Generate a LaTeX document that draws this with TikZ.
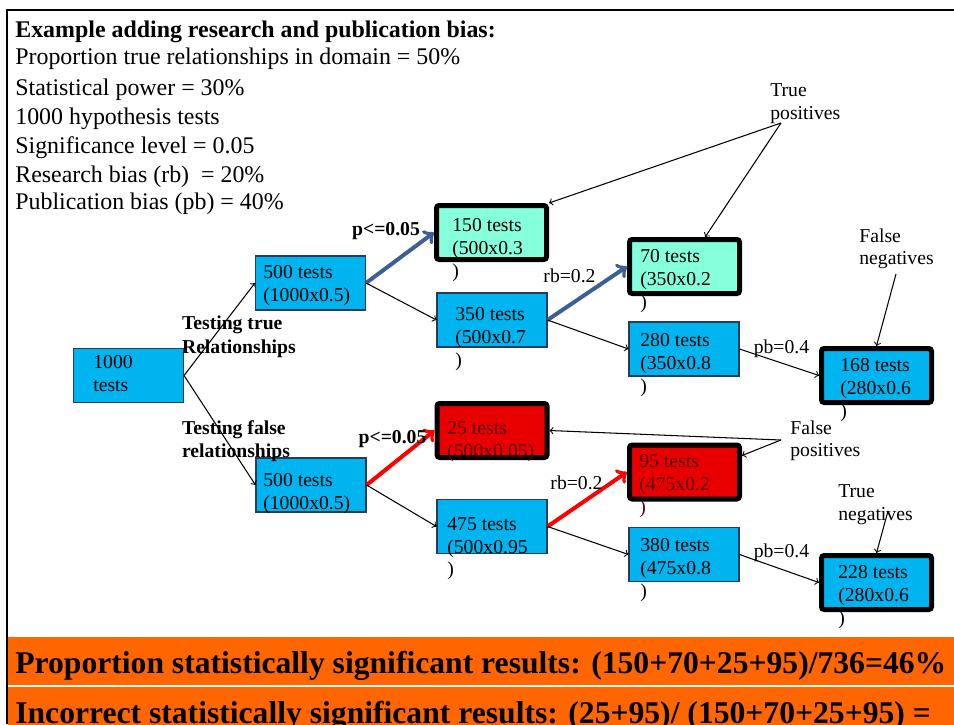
\documentclass[tikz,border=0pt]{standalone}
\usepackage{fontspec}
\setmainfont{Liberation Serif}
\newlength\pxl
\setlength\pxl{0.02cm}
\definecolor{boxblue}{RGB}{0,180,240}
\definecolor{boxaqua}{RGB}{134,255,220}
\definecolor{boxred}{RGB}{232,0,0}
\definecolor{boxline}{RGB}{40,60,90}
\definecolor{arrowblue}{RGB}{60,96,150}
\definecolor{darkred}{RGB}{90,0,0}
\definecolor{banner}{RGB}{255,102,0}
\tikzset{
  testbox/.style={draw=boxline, line width=0.6pt, minimum width=110\pxl, minimum height=54\pxl, inner sep=0pt},
  bluebox/.style={testbox, fill=boxblue},
  hitbox/.style={testbox, draw=black, line width=5\pxl, rounded corners=1.5pt},
  boxtext/.style={anchor=north west, inner sep=0pt, align=left, font=\fontsize{11.2}{13}\selectfont},
  head/.style={anchor=base west, inner sep=0pt, font=\fontsize{13.6}{16}\selectfont},
  lbl/.style={anchor=base, inner sep=0pt, font=\fontsize{11.2}{13}\selectfont},
  link/.style={->, line width=0.6pt},
  sigblue/.style={->, line width=4\pxl, draw=arrowblue},
  sigred/.style={->, line width=4\pxl, draw=red},
  bannertext/.style={anchor=base west, inner sep=0pt, font=\bfseries\fontsize{18}{20}\selectfont}
}
\begin{document}
\begin{tikzpicture}[x=0.02cm, y=-0.02cm]
  \useasboundingbox (0,0) rectangle (954,724);
  \clip (0,0) rectangle (954,724);
  \draw[line width=2.5\pxl] (7,724) -- (7,10) -- (954,10);

  \node[head, font=\bfseries\fontsize{13.6}{16}\selectfont] (title) at (15,37) {Example adding research and publication bias:};
  \foreach \txt/\yy [count=\i] in {Proportion true relationships in domain = 50\%/64,
      Statistical power = 30\%/95, 1000 hypothesis tests/124, Significance level = 0.05/153,
      Research bias (rb)~ = 20\%/182, Publication bias (pb) = 40\%/209}
    \node[head] (hdr\i) at (15,\yy) {\txt};

  \node[bluebox] (n1000) at (128.5,375.5) {};
  \node[bluebox] (t500) at (310.5,283) {};
  \node[bluebox] (f500) at (311,485) {};
  \node[hitbox, fill=boxaqua] (t150) at (491.5,232.5) {};
  \node[bluebox] (t350) at (492,320) {};
  \node[hitbox, fill=boxaqua] (t70) at (684.5,266.5) {};
  \node[bluebox] (t280) at (684,349) {};
  \node[hitbox, fill=boxblue] (t168) at (876.5,375.5) {};
  \node[hitbox, fill=boxred] (f25) at (492,430.5) {};
  \node[hitbox, fill=boxred] (f95) at (684.5,472) {};
  \node[bluebox] (f475) at (492,526.5) {};
  \node[bluebox] (f380) at (684,554.5) {};
  \node[hitbox, fill=boxblue] (f228) at (876.5,582.5) {};

  \node[boxtext] (n1000txt) at (93,355) {1000\\tests};
  \node[boxtext] (t500txt) at (263,265) {500 tests\\(1000x0.5)};
  \node[boxtext] (f500txt) at (263,473) {500 tests\\(1000x0.5)};
  \node[boxtext] (t150txt) at (452,218) {150 tests\\(500x0.3\\)};
  \node[boxtext] (t350txt) at (455,307) {350 tests\\(500x0.7\\)};
  \node[boxtext] (t70txt) at (640,249) {70 tests\\(350x0.2\\)};
  \node[boxtext] (t280txt) at (640,333) {280 tests\\(350x0.8\\)};
  \node[boxtext] (t168txt) at (840,358) {168 tests\\(280x0.6\\)};
  \node[boxtext, text=darkred] (f25txt) at (447,421) {25 tests\\(500x0.05)};
  \node[boxtext, text=darkred] (f95txt) at (639,454) {95 tests\\(475x0.2\\)};
  \node[boxtext] (f475txt) at (447,517) {475 tests\\(500x0.95\\)};
  \node[boxtext] (f380txt) at (640,538) {380 tests\\(475x0.8\\)};
  \node[boxtext] (f228txt) at (838,565) {228 tests\\(280x0.6\\)};

  \draw[link] (n1000.east) -- (t500.west);
  \draw[link] (n1000.east) -- (f500.west);
  \draw[sigblue] (t500.east) -- (t150.west);
  \draw[link] (t500.east) -- (t350.west);
  \draw[sigblue] (t350.east) -- (t70.west);
  \draw[link] (t350.east) -- (t280.west);
  \draw[link] (t280.east) -- (t168.west);
  \draw[sigred] (f500.east) -- (f25.west);
  \draw[link] (f500.east) -- (f475.west);
  \draw[sigred] (f475.east) -- (f95.west);
  \draw[link] (f475.east) -- (f380.west);
  \draw[link] (f380.east) -- (f228.west);

  \node[boxtext, font=\bfseries\fontsize{11.2}{14.2}\selectfont] (truerel) at (181.7,315) {Testing true\\Relationships};
  \node[boxtext, font=\bfseries\fontsize{11.2}{13}\selectfont] (falserel) at (181.7,420) {Testing false\\relationships};
  \node[lbl, font=\bfseries\fontsize{11.2}{13}\selectfont] (ptrue) at (386,235) {p<=0.05};
  \node[lbl, font=\bfseries\fontsize{11.2}{13}\selectfont] (pfalse) at (392.5,443) {p<=0.05};
  \node[lbl] (rbtrue) at (569.5,282) {rb=0.2};
  \node[lbl] (rbfalse) at (576.5,489) {rb=0.2};
  \node[lbl] (pbtrue) at (781.5,353) {pb=0.4};
  \node[lbl] (pbfalse) at (781.5,557) {pb=0.4};

  \node[boxtext] (tplab) at (770,83) {True\\positives};
  \node[boxtext] (fnlab) at (859,228) {False\\negatives};
  \node[boxtext] (fplab) at (790,420) {False\\positives};
  \node[boxtext] (tnlab) at (838,484) {True\\negatives};
  \coordinate (tpo) at (781,123);
  \coordinate (fno) at (896,274);
  \coordinate (fpo) at (781,440);
  \coordinate (tno) at (888,511);
  \draw[link] (tpo) -- (t150.north east);
  \draw[link] (tpo) -- (t70.55);
  \draw[link] (fno) -- (t168.north);
  \draw[link] (fpo) -- (f25.east);
  \draw[link] (fpo) -- (f95.16);
  \draw[link] (tno) -- (f228.north);

  \fill[banner] (8,637) rectangle (954,685);
  \fill[banner] (8,687) rectangle (954,740);
  \node[bannertext] (sigres) at (15,673) {Proportion statistically significant results: (150+70+25+95)/736=46\%};
  \node[bannertext] (wrongres) at (15,723) {Incorrect statistically significant results: (25+95)/ (150+70+25+95) =};
\end{tikzpicture}
\end{document}
